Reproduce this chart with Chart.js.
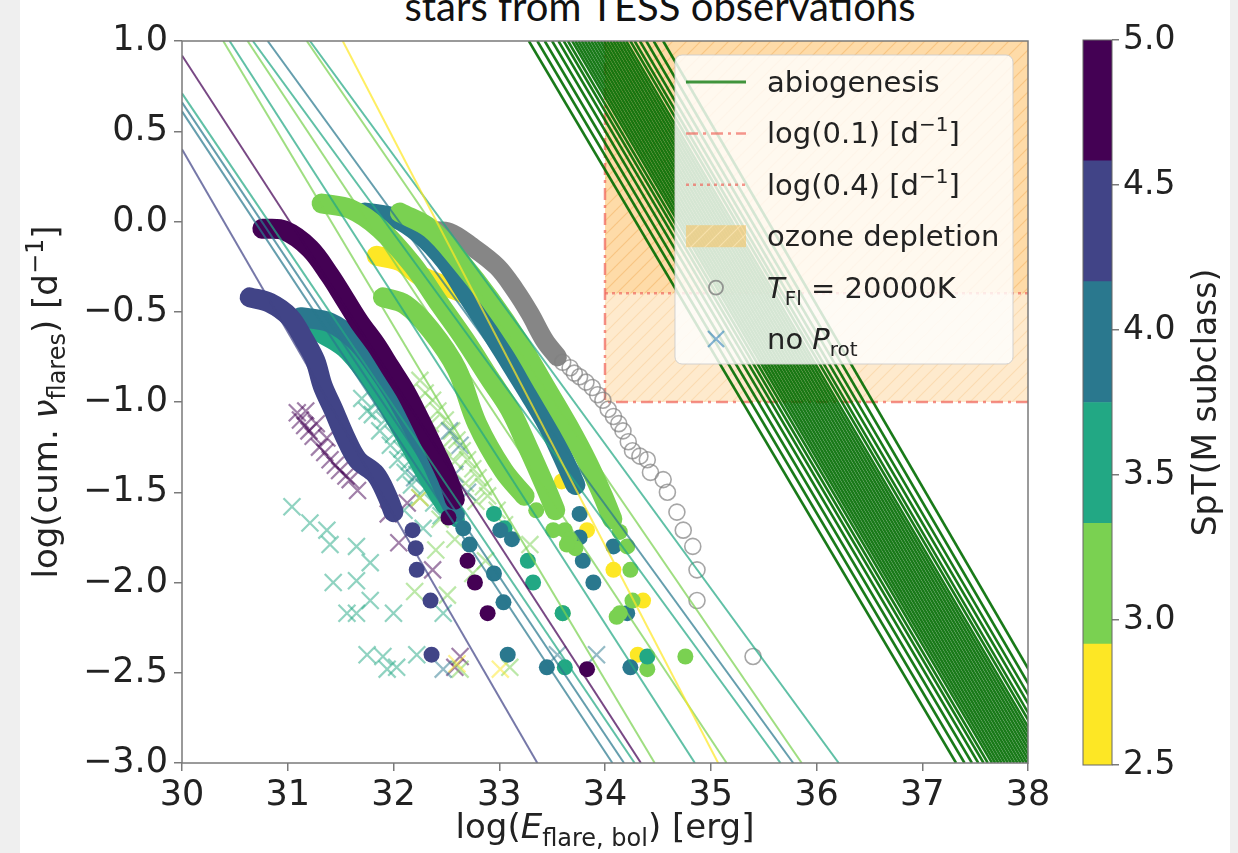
<!DOCTYPE html>
<html>
<head>
<meta charset="utf-8">
<script src="https://cdn.jsdelivr.net/npm/chart.js@4.4.1/dist/chart.umd.min.js"></script>
<style>
  html, body { margin: 0; padding: 0; background: #efefef; }
  body { width: 1238px; height: 853px; position: relative; overflow: hidden; }
  #panel { position: absolute; left: 20px; top: 0; width: 1210px; height: 853px; background: #fff; }
  #title { position: absolute; left: 660px; top: -14px; transform: translateX(-50%); white-space: nowrap;
           font: 40px/40px Lato, "Open Sans", sans-serif; color: #111; }
  #main { position: absolute; left: 0; top: 0; }
  #cbar { position: absolute; left: 1060px; top: 0; }
</style>
</head>
<body>
<div id="panel"></div>
<div id="title">stars from TESS observations</div>
<canvas id="main" width="1238" height="853"></canvas>
<canvas id="cbar" width="178" height="853"></canvas>
<script>
// axes
const xMin = 30, xMax = 38, yMin = -3, yMax = 1;
const xTickLabels = [30, 31, 32, 33, 34, 35, 36, 37, 38];
const yTickLabels = [1.0, 0.5, 0.0, -0.5, -1.0, -1.5, -2.0, -2.5, -3.0];
const cbarTickLabels = [5.0, 4.5, 4.0, 3.5, 3.0, 2.5];

// discrete viridis colour bar for the spectral subclass
const sptEdges = [2.5, 2.917, 3.333, 3.75, 4.167, 4.583, 5.0];
const viridis6 = ['#fde725', '#7ad151', '#22a884', '#2a788e', '#414487', '#440154'];

// ozone depletion limits
const ozoneLogE = 34;
const rateLow = Math.log10(0.1);
const rateHigh = Math.log10(0.4);

// power law fits per star: start / end point (log E, log rate)
const fitSpT = [4.5, 4.0, 4.0, 3.5, 5.0, 3.0, 3.5, 3.0, 3.5, 4.0, 3.0, 3.5, 2.5];
const fitStart = [[30, 0.40], [30, 0.61], [30, 0.66], [30, 0.71], [30, 0.92], [30.39, 1], [30.45, 1],
                  [30.62, 1], [30.67, 1], [30.81, 1], [31.18, 1], [31.21, 1], [31.52, 1]];
const fitEnd = [[33.36, -3], [34.07, -3], [34.18, -3], [34.28, -3], [34.34, -3], [34.47, -3], [34.85, -3],
                [35.15, -3], [35.66, -3], [35.78, -3], [35.86, -3], [36.21, -3], [35.07, -3]];

// abiogenesis lines: log E where each line meets log rate = 1 and log rate = -3
const abioTopE = [33.28, 33.36, 33.43, 33.50, 33.56, 33.61, 33.65, 33.69, 33.72, 33.75, 33.78, 33.81, 33.84, 33.87,
                  33.90, 33.93, 33.96, 33.99, 34.02, 34.05, 34.08, 34.11, 34.14, 34.17, 34.20, 34.24, 34.28, 34.33,
                  34.39, 34.46, 34.55];
const abioBottomE = [37.32, 37.40, 37.47, 37.53, 37.58, 37.62, 37.66, 37.69, 37.72, 37.75, 37.78, 37.81, 37.84, 37.87,
                     37.90, 37.93, 37.96, 37.99, 38.02, 38.05, 38.08, 38.11, 38.14, 38.17, 38.20, 38.24, 38.28, 38.33,
                     38.38, 38.44, 38.52];

// cumulative flare frequency distributions (log E, log cum. rate)
const m25Band = [[31.84, -0.19], [32.06, -0.22], [32.25, -0.30], [32.50, -0.36], [32.72, -0.42], [32.96, -0.58],
                 [33.15, -0.72], [33.29, -0.84], [33.45, -1.02], [33.59, -1.22]];
const m25Dots = [[33.59, -1.44], [33.83, -1.71], [34.08, -1.93], [34.36, -2.10], [34.31, -2.40]];

const m40bBand = [[31.73, 0.05], [32.01, 0.02], [32.25, -0.07], [32.49, -0.22], [32.70, -0.41], [32.91, -0.60],
                  [33.10, -0.78], [33.29, -0.96], [33.46, -1.13], [33.59, -1.29], [33.72, -1.46]];
const m40bDots = [[33.76, -1.62], [33.76, -1.75], [33.79, -1.88], [33.89, -2.00], [34.21, -2.17], [34.24, -2.47],
                  [34.08, -1.80]];

const m30cBand = [[32.06, 0.05], [32.35, -0.04], [32.63, -0.22], [32.91, -0.43], [33.20, -0.68], [33.43, -0.91],
                  [33.65, -1.13], [33.84, -1.34], [33.98, -1.52], [34.07, -1.65]];
const m30cDots = [[34.14, -1.72], [34.21, -1.80], [34.24, -1.93], [34.26, -2.10], [34.14, -2.17], [34.11, -2.19],
                  [34.40, -2.48], [34.76, -2.41]];

const m30aBand = [[31.32, 0.10], [31.59, 0.07], [31.87, -0.04], [32.18, -0.24], [32.44, -0.46], [32.68, -0.66],
                  [32.91, -0.87], [33.10, -1.04], [33.27, -1.25], [33.43, -1.46], [33.53, -1.60]];
const m30aDots = [[33.62, -1.71], [33.72, -1.81], [33.60, -2.17], [33.66, -1.76]];

const m30bBand = [[31.90, -0.42], [32.11, -0.46], [32.35, -0.60], [32.60, -0.82], [32.79, -1.12], [33.04, -1.38],
                  [33.24, -1.52]];
const m30bDots = [[33.35, -1.60], [33.51, -1.71], [33.64, -1.79]];

const m35Band = [[31.26, -0.60], [31.54, -0.70], [31.78, -0.87], [31.97, -1.04], [32.16, -1.24], [32.33, -1.42],
                 [32.49, -1.57]];
const m35Dots = [[32.60, -1.65], [32.95, -1.62], [33.05, -1.70], [33.27, -1.88], [33.32, -2.00], [33.60, -2.17],
                 [33.62, -2.47], [34.40, -2.41]];

const m40aBand = [[31.12, -0.53], [31.40, -0.56], [31.64, -0.66], [31.83, -0.80], [32.01, -0.96], [32.20, -1.16],
                  [32.35, -1.32], [32.46, -1.46], [32.55, -1.57]];
const m40aDots = [[32.60, -1.62], [32.66, -1.70], [32.72, -1.79], [33.01, -1.71], [33.12, -1.76], [33.04, -2.11],
                  [33.08, -2.40], [33.45, -2.47], [32.95, -1.95]];

const m45Band = [[30.64, -0.42], [30.83, -0.45], [31.02, -0.53], [31.16, -0.66], [31.26, -0.77], [31.33, -0.91],
                 [31.43, -1.04], [31.54, -1.19], [31.66, -1.32], [31.83, -1.40], [31.94, -1.52], [32.00, -1.61]];
const m45Dots = [[32.18, -1.71], [32.21, -1.81], [32.22, -1.93], [32.35, -2.10], [32.36, -2.40]];

const m50Band = [[30.76, -0.04], [30.97, -0.05], [31.21, -0.15], [31.40, -0.30], [31.54, -0.43], [31.68, -0.56],
                 [31.83, -0.68], [31.97, -0.81], [32.11, -0.94], [32.25, -1.10], [32.39, -1.27], [32.51, -1.42],
                 [32.58, -1.54]];
const m50Dots = [[32.52, -1.64], [32.70, -1.88], [32.77, -2.00], [32.89, -2.17], [33.83, -2.48]];

// same star with a flare temperature of 20000 K
const hotBand = [[32.35, -0.05], [32.53, -0.06], [32.72, -0.13], [32.98, -0.25], [33.15, -0.38], [33.29, -0.51],
                 [33.43, -0.66], [33.55, -0.75]];
const hotRing = [[32.33, -0.05], [32.37, -0.05], [33.60, -0.78], [33.67, -0.81], [33.71, -0.84], [33.76, -0.86],
                 [33.82, -0.89], [33.88, -0.92], [33.93, -0.96], [33.98, -0.99], [34.03, -1.04], [34.08, -1.08],
                 [34.13, -1.12], [34.17, -1.16], [34.22, -1.22], [34.26, -1.27], [34.33, -1.30], [34.40, -1.32],
                 [34.43, -1.39], [34.55, -1.43], [34.59, -1.50], [34.68, -1.61], [34.74, -1.71], [34.83, -1.80],
                 [34.87, -1.93], [34.87, -2.10], [35.40, -2.41]];

// stars without rotation period
const noProt50 = [[31.09, -1.06], [31.12, -1.10], [31.16, -1.13], [31.20, -1.16], [31.24, -1.19], [31.30, -1.25],
                  [31.35, -1.28], [31.40, -1.32], [31.45, -1.35], [31.49, -1.38], [31.55, -1.41], [31.59, -1.43],
                  [31.66, -1.49], [31.17, -1.05], [31.27, -1.12], [31.37, -1.20], [32.13, -1.56], [32.37, -1.93],
                  [32.63, -2.41], [32.58, -2.47], [31.95, -1.62], [32.05, -1.78]];
const noProt40 = [[32.53, -1.16], [32.63, -1.24], [32.40, -1.30], [32.58, -1.40], [32.47, -2.48], [33.92, -2.40],
                  [32.30, -1.20], [32.45, -1.36], [32.70, -1.50], [32.20, -1.42], [33.55, -2.40]];
const noProt35 = [[31.04, -1.58], [31.21, -1.67], [31.37, -1.71], [31.40, -1.79], [31.65, -1.80], [31.78, -1.89],
                  [31.65, -1.99], [31.43, -2.00], [31.78, -2.10], [31.56, -2.17], [31.65, -2.17], [32.00, -2.17],
                  [31.75, -2.40], [31.90, -2.41], [32.03, -2.47], [31.94, -2.48], [32.22, -2.40], [32.47, -2.17],
                  [31.80, -1.07], [31.87, -1.16], [31.97, -1.24], [32.04, -1.32], [32.11, -1.39], [32.17, -1.46],
                  [32.25, -1.53], [31.85, -1.00], [31.92, -1.10], [32.00, -1.18], [32.08, -1.26], [32.15, -1.33],
                  [32.22, -1.40], [32.30, -1.48], [32.38, -1.56], [32.45, -1.63], [32.10, -1.60], [32.28, -1.70],
                  [31.70, -0.98], [31.75, -1.05]];
const noProt30 = [[32.25, -0.88], [32.30, -0.95], [32.37, -0.99], [32.42, -1.05], [32.49, -1.10], [32.55, -1.16],
                  [32.60, -1.21], [32.65, -1.27], [32.70, -1.32], [32.75, -1.37], [32.80, -1.42], [32.85, -1.47],
                  [32.89, -1.52], [32.98, -1.60], [33.05, -1.68], [32.44, -1.65], [32.58, -1.76], [32.87, -1.88],
                  [32.51, -2.07], [32.63, -2.48], [33.10, -2.47], [33.29, -1.79], [32.35, -1.12], [32.47, -1.25],
                  [32.58, -1.33], [32.68, -1.45], [32.78, -1.55], [32.40, -1.82], [32.75, -1.95], [32.20, -2.05]];
const noProt25 = [[32.25, -1.53], [33.01, -2.48], [32.60, -2.45]];

const FONT = '"DejaVu Sans", sans-serif';
const AXIS = '#7a7a7a';
Chart.defaults.font.family = FONT;

function rgba(hex, a) {
  const n = parseInt(hex.slice(1), 16);
  return `rgba(${n >> 16},${(n >> 8) & 255},${n & 255},${a})`;
}
function sptColor(s, a) {
  let i = 5;
  for (let k = 0; k < 6; k++) if (s >= sptEdges[k] && s < sptEdges[k + 1]) { i = k; break; }
  return rgba(viridis6[i], a);
}
const pts = arr => arr.map(([x, y]) => ({ x, y }));

const mainCanvas = document.getElementById('main');
const mctx = mainCanvas.getContext('2d');

// orange fill with "//" hatching
function hatch(ctx, fill, line) {
  const s = 14, t = document.createElement('canvas');
  t.width = t.height = s;
  const g = t.getContext('2d');
  g.fillStyle = fill;
  g.fillRect(0, 0, s, s);
  g.strokeStyle = line;
  g.lineWidth = 1.2;
  g.beginPath();
  g.moveTo(0, s); g.lineTo(s, 0);
  g.moveTo(-s / 2, s / 2); g.lineTo(s / 2, -s / 2);
  g.moveTo(s / 2, s * 1.5); g.lineTo(s * 1.5, s / 2);
  g.stroke();
  return ctx.createPattern(t, 'repeat');
}
const ozoneFill = hatch(mctx, 'rgba(252,175,60,0.26)', 'rgba(240,160,70,0.2)');
const ozoneKey = hatch(mctx, 'rgba(245,195,100,0.6)', 'rgba(255,235,190,0.6)');

const datasets = [];
const add = d => { d.order = 1000 - datasets.length; datasets.push(Object.assign({ fill: false, tension: 0, pointRadius: 0 }, d)); };

// ozone depletion regions
add({ data: pts([[ozoneLogE, rateLow], [xMax, rateLow]]), fill: 'end', backgroundColor: ozoneFill, borderWidth: 0 });
add({ data: pts([[ozoneLogE, rateHigh], [xMax, rateHigh]]), fill: 'end', backgroundColor: ozoneFill, borderWidth: 0 });
add({ data: pts([[xMax, rateLow], [ozoneLogE, rateLow], [ozoneLogE, yMax]]),
      borderColor: 'rgba(240,105,95,0.75)', borderWidth: 2.5, borderDash: [12, 5, 3, 5] });
add({ data: pts([[xMax, rateHigh], [ozoneLogE, rateHigh]]),
      borderColor: 'rgba(240,105,95,0.7)', borderWidth: 2.5, borderDash: [3, 4] });

// no P_rot crosses
[[3.5, noProt35], [5.0, noProt50], [3.0, noProt30], [4.0, noProt40], [2.5, noProt25]].forEach(([s, d]) => {
  add({ data: pts(d), showLine: false, pointStyle: 'crossRot', pointRadius: 12,
        pointBorderColor: sptColor(s, 0.5), pointBorderWidth: 2.2, pointBackgroundColor: 'transparent' });
});

// 20000 K flares
add({ data: pts(hotBand), borderColor: 'rgba(128,128,128,0.95)', borderWidth: 19, borderCapStyle: 'round',
      borderJoinStyle: 'round', tension: 0.35 });
add({ data: pts(hotRing), showLine: false, pointRadius: 8, pointBackgroundColor: 'transparent',
      pointBorderColor: 'rgba(128,128,128,0.7)', pointBorderWidth: 1.6 });

// FFDs with rotation period
function addStar(spt, band, dots) {
  const c = sptColor(spt, 1);
  add({ data: pts(band), borderColor: c, borderWidth: 20, borderCapStyle: 'round', borderJoinStyle: 'round', tension: 0.35 });
  add({ data: pts(dots), showLine: false, pointRadius: 8, pointBackgroundColor: c, pointBorderWidth: 0 });
}
addStar(2.5, m25Band, m25Dots);
addStar(4.0, m40bBand, m40bDots);
addStar(3.0, m30cBand, m30cDots);
addStar(3.0, m30aBand, m30aDots);
addStar(3.0, m30bBand, m30bDots);
addStar(3.5, m35Band, m35Dots);
addStar(4.0, m40aBand, m40aDots);
addStar(4.5, m45Band, m45Dots);
addStar(5.0, m50Band, m50Dots);

// power law fits
fitSpT.forEach((s, i) => {
  add({ data: pts([fitStart[i], fitEnd[i]]), borderColor: sptColor(s, 0.72), borderWidth: 2 });
});

// abiogenesis zone
abioTopE.forEach((e, i) => {
  add({ data: pts([[e, yMax], [abioBottomE[i], yMin]]), borderColor: 'rgba(0,108,0,0.9)', borderWidth: 2.6 });
});

// text with italics, sub- and superscripts
function layoutRich(ctx, parts, size) {
  let w = 0;
  const out = parts.map(([t, s]) => {
    let font = `${size}px ${FONT}`, dy = 0;
    if (s === 'i') font = `italic ${size}px ${FONT}`;
    if (s === 'sub') { font = `${Math.round(size * 0.7)}px ${FONT}`; dy = size * 0.24; }
    if (s === 'sup') { font = `${Math.round(size * 0.7)}px ${FONT}`; dy = -size * 0.42; }
    ctx.font = font;
    const p = { t, font, dy, x: w };
    w += ctx.measureText(t).width;
    return p;
  });
  return { w, out };
}
function drawRich(ctx, parts, x, y, size, align, rot) {
  const { w, out } = layoutRich(ctx, parts, size);
  ctx.save();
  ctx.translate(x, y);
  if (rot) ctx.rotate(rot);
  ctx.textAlign = 'left';
  ctx.textBaseline = 'alphabetic';
  const x0 = align === 'center' ? -w / 2 : 0;
  out.forEach(p => { ctx.font = p.font; ctx.fillText(p.t, x0 + p.x, p.dy); });
  ctx.restore();
}

const legendRows = [
  { kind: 'line', parts: [['abiogenesis', '']] },
  { kind: 'dashdot', parts: [['log(0.1) [d', ''], ['−1', 'sup'], [']', '']] },
  { kind: 'dotted', parts: [['log(0.4) [d', ''], ['−1', 'sup'], [']', '']] },
  { kind: 'patch', parts: [['ozone depletion', '']] },
  { kind: 'ring', parts: [['T', 'i'], ['Fl', 'sub'], [' = 20000K', '']] },
  { kind: 'cross', parts: [['no ', ''], ['P', 'i'], ['rot', 'sub']] }
];

function drawLegend(ctx) {
  const bx = 675, by = 55, bw = 338, bh = 309;
  ctx.save();
  ctx.beginPath();
  ctx.roundRect(bx, by, bw, bh, 7);
  ctx.fillStyle = 'rgba(255,255,255,0.82)';
  ctx.fill();
  ctx.strokeStyle = 'rgba(205,205,205,0.9)';
  ctx.lineWidth = 1;
  ctx.stroke();
  const h0 = 686, h1 = 746, hc = 716, tx = 767;
  legendRows.forEach((r, i) => {
    const cy = 82 + i * 51.4;
    ctx.save();
    if (r.kind === 'line' || r.kind === 'dashdot' || r.kind === 'dotted') {
      ctx.beginPath();
      ctx.moveTo(h0, cy); ctx.lineTo(h1, cy);
      ctx.lineWidth = r.kind === 'line' ? 3 : 2.5;
      ctx.strokeStyle = r.kind === 'line' ? 'rgba(0,115,0,0.75)' : 'rgba(240,105,95,0.7)';
      if (r.kind === 'dashdot') ctx.setLineDash([12, 5, 3, 5]);
      if (r.kind === 'dotted') ctx.setLineDash([3, 4]);
      ctx.stroke();
    } else if (r.kind === 'patch') {
      ctx.fillStyle = ozoneKey;
      ctx.fillRect(h0, cy - 11, h1 - h0, 22);
    } else if (r.kind === 'ring') {
      ctx.beginPath();
      ctx.arc(hc, cy, 7, 0, Math.PI * 2);
      ctx.strokeStyle = 'rgba(128,128,128,0.8)';
      ctx.lineWidth = 1.8;
      ctx.stroke();
    } else {
      ctx.beginPath();
      ctx.moveTo(hc - 8, cy - 8); ctx.lineTo(hc + 8, cy + 8);
      ctx.moveTo(hc - 8, cy + 8); ctx.lineTo(hc + 8, cy - 8);
      ctx.strokeStyle = 'rgba(31,119,180,0.55)';
      ctx.lineWidth = 2.2;
      ctx.stroke();
    }
    ctx.restore();
    ctx.fillStyle = '#222';
    drawRich(ctx, r.parts, tx, cy + 10, 29, 'left');
  });
  ctx.restore();
}

const mainDecor = {
  id: 'mainDecor',
  afterDraw(chart) {
    const { ctx, chartArea: ca } = chart;
    ctx.save();
    ctx.strokeStyle = AXIS;
    ctx.lineWidth = 1.5;
    ctx.strokeRect(ca.left, ca.top, ca.right - ca.left, ca.bottom - ca.top);
    ctx.fillStyle = '#222';
    drawRich(ctx, [['log(cum. ', ''], ['ν', 'i'], ['flares', 'sub'], [') [d', ''], ['−1', 'sup'], [']', '']],
             57, (ca.top + ca.bottom) / 2, 34, 'center', -Math.PI / 2);
    drawRich(ctx, [['log(', ''], ['E', 'i'], ['flare, bol', 'sub'], [') [erg]', '']],
             (ca.left + ca.right) / 2, 838, 34, 'center');
    drawLegend(ctx);
    ctx.restore();
  }
};

const tickFmt = v => v.toFixed(Number.isInteger(v) && v >= 30 ? 0 : 1).replace('-', '−');

new Chart(mainCanvas, {
  type: 'line',
  data: { datasets },
  options: {
    responsive: false,
    animation: false,
    events: [],
    layout: { padding: { left: 0, right: 210, top: 41, bottom: 0 } },
    plugins: { legend: { display: false }, tooltip: { enabled: false }, filler: { propagate: false } },
    scales: {
      x: {
        type: 'linear', min: xMin, max: xMax,
        afterBuildTicks: s => { s.ticks = xTickLabels.map(v => ({ value: v })); },
        afterFit: s => { s.height = 90; },
        ticks: { font: { size: 35 }, color: '#222', padding: 4, maxRotation: 0, callback: v => tickFmt(v) },
        grid: { drawOnChartArea: false, tickLength: 8, color: AXIS, lineWidth: 1.5 },
        border: { display: false }
      },
      y: {
        type: 'linear', min: yMin, max: yMax,
        afterBuildTicks: s => { s.ticks = yTickLabels.map(v => ({ value: v })); },
        afterFit: s => { s.width = 182; },
        ticks: { font: { size: 35 }, color: '#222', padding: 6, callback: v => tickFmt(v) },
        grid: { drawOnChartArea: false, tickLength: 8, color: AXIS, lineWidth: 1.5 },
        border: { display: false }
      }
    }
  },
  plugins: [mainDecor]
});

// colour bar
const cbarDecor = {
  id: 'cbarDecor',
  afterDraw(chart) {
    const { ctx, chartArea: ca } = chart;
    ctx.save();
    ctx.strokeStyle = '#666';
    ctx.lineWidth = 1;
    ctx.strokeRect(ca.left, ca.top, ca.right - ca.left, ca.bottom - ca.top);
    ctx.fillStyle = '#222';
    drawRich(ctx, [['SpT(M subclass)', '']], 156, (ca.top + ca.bottom) / 2, 33, 'center', -Math.PI / 2);
    ctx.restore();
  }
};

new Chart(document.getElementById('cbar'), {
  type: 'bar',
  data: {
    labels: ['SpT'],
    datasets: viridis6.map((c, i) => ({
      data: [[sptEdges[i], sptEdges[i + 1]]], backgroundColor: c, borderWidth: 0,
      barPercentage: 1, categoryPercentage: 1, grouped: false
    }))
  },
  options: {
    responsive: false,
    animation: false,
    events: [],
    layout: { padding: { left: 23, right: 0, top: 40, bottom: 88 } },
    plugins: { legend: { display: false }, tooltip: { enabled: false } },
    scales: {
      x: { display: false },
      y: {
        position: 'right', min: 2.5, max: 5.0,
        afterBuildTicks: s => { s.ticks = cbarTickLabels.map(v => ({ value: v })); },
        afterFit: s => { s.width = 126; },
        ticks: { font: { size: 33 }, color: '#222', padding: 4, callback: v => v.toFixed(1) },
        grid: { drawOnChartArea: false, tickLength: 7, color: AXIS, lineWidth: 1.5 },
        border: { display: false }
      }
    }
  },
  plugins: [cbarDecor]
});
</script>
</body>
</html>
